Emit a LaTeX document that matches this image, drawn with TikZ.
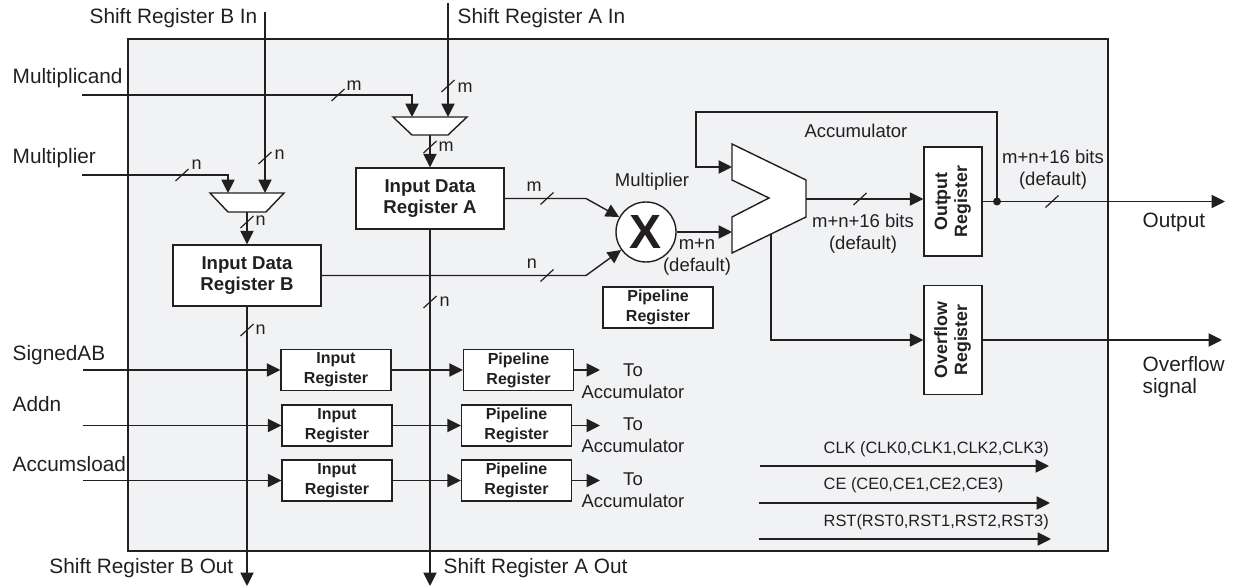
\documentclass[tikz,border=0pt]{standalone}
\usepackage{fontspec}
\setmainfont{Liberation Sans}
\usepackage{graphicx}
\usetikzlibrary{arrows.meta,positioning,calc}

\definecolor{panel}{RGB}{241,242,244}
\definecolor{ink}{RGB}{35,31,32}

% bus width mark
\newcommand{\busmark}[1]{\draw[line width=0.6pt] (#1) +(-6.5,6) -- +(6.5,-6);}

\begin{document}
\begin{tikzpicture}[x=0.5pt, y=-0.5pt, line width=0.7pt, color=ink,
  sig/.style={-{Triangle[length=6.7pt,width=6.6pt]}},
  reg/.style={draw, fill=white, align=center, inner sep=0pt},
  bigreg/.style={reg, minimum width=74pt, minimum height=30.5pt, font=\fontsize{9.3}{10.5}\selectfont\bfseries},
  smallreg/.style={reg, minimum width=55pt, minimum height=20.5pt, font=\fontsize{8}{10}\selectfont\bfseries},
  vreg/.style={reg, minimum width=29pt, minimum height=54.5pt, font=\fontsize{8.9}{10}\selectfont\bfseries},
  lbl/.style={font=\fontsize{10.4}{11}\selectfont, inner sep=0pt},
  note/.style={font=\fontsize{9.25}{11}\selectfont, align=center, inner sep=0pt},
  bus/.style={font=\fontsize{9}{10}\selectfont, inner sep=0pt, anchor=west},
  ctl/.style={font=\fontsize{8.2}{10}\selectfont, inner sep=0pt, anchor=west}]

\useasboundingbox (0,0) rectangle (1233,588);

% Block outline
\draw[fill=panel] (128,39) rectangle (1108,551);

% Input muxes
\coordinate (muxA-l) at (412,117); \coordinate (muxA-r) at (448,117); \coordinate (muxA-o) at (430,135);
\coordinate (muxB-l) at (228,193); \coordinate (muxB-r) at (265,193); \coordinate (muxB-o) at (247,212);
\draw[fill=white] (393,117) -- (467,117) -- (448,135) -- (412,135) -- cycle;
\draw[fill=white] (210,193) -- (284,193) -- (266,212) -- (228,212) -- cycle;

% Registers
\node[bigreg] (regA) at (430,198.5) {Input Data\\Register A};
\node[bigreg] (regB) at (247,275.5) {Input Data\\Register B};
\node[smallreg] (pipeM) at (658,307.5) {Pipeline\\Register};
\node[vreg] (outReg) at (953,201.5) {\rotatebox{90}{\begin{tabular}{@{}c@{}}Output\\Register\end{tabular}}};
\node[vreg] (ovfReg) at (953,340) {\rotatebox{90}{\begin{tabular}{@{}c@{}}Overflow\\Register\end{tabular}}};

% Multiplier
\node[draw, circle, fill=white, minimum size=30pt, inner sep=0pt, font=\fontsize{24}{24}\selectfont\bfseries] (mult) at (646,232) {X};
\node[note] (multLbl) at (652,182) {Multiplier};
\node[note] (multW) at (697,257) {m+n\\(default)};

% Accumulator
\coordinate (accIn1) at (732,167); \coordinate (accIn2) at (732,232);
\coordinate (accOut) at (806,199); \coordinate (accTap) at (771,234.5);
\draw[fill=white] (732,144) -- (806,180) -- (806,217) -- (732,253) -- (732,217) -- (769,198) -- (732,180) -- cycle;
\node[note] (accLbl) at (856,131) {Accumulator};
\node[note] (accW) at (863,234) {m+n+16 bits\\(default)};

% Shift register chain
\coordinate (srBtop) at (265,12);
\coordinate (srAtop) at (448,3);
\coordinate (srBout) at (247,586);
\coordinate (srAout) at (430,586);
\draw[sig] (srBtop) -- (muxB-r);
\draw[sig] (srAtop) -- (muxA-r);
\draw[sig] (regB.south) -- (srBout);
\draw[sig] (regA.south) -- (srAout);
\node[lbl, anchor=east] (srBinLbl) at (258,18) {Shift Register B In};
\node[lbl, anchor=west] (srAinLbl) at (457,18) {Shift Register A In};
\node[lbl, anchor=east] (srBoutLbl) at (234,568) {Shift Register B Out};
\node[lbl, anchor=west] (srAoutLbl) at (443,568) {Shift Register A Out};

% Data inputs
\coordinate (mcand) at (82,95);
\coordinate (mplier) at (82,175);
\node[lbl, anchor=west] (mcandLbl) at (12,78) {Multiplicand};
\node[lbl, anchor=west] (mplierLbl) at (12,158) {Multiplier};
\draw[sig] (mcand) -| (muxA-l);
\draw[sig] (mplier) -| (muxB-l);
\draw[sig] (muxA-o) -- (regA.north);
\draw[sig] (muxB-o) -- (regB.north);

% Into the multiplier
\coordinate (bendA) at (586,198.5);
\coordinate (bendB) at (586,275.5);
\draw[sig] (regA.east) -- (bendA) -- (mult);
\draw[sig] (regB.east) -- (bendB) -- (mult);
\draw[sig] (mult.east) -- (accIn2);

% Accumulator loop and outputs
\coordinate (tap) at (997,201.5);
\coordinate (fbCorner) at (696,112);
\coordinate (outEnd) at (1225,201.5);
\coordinate (ovfEnd) at (1222,340);
\draw[sig] (accOut) -- (accOut -| outReg.west);
\draw[sig] (outReg.east) -- (outEnd);
\draw[sig] (tap) |- (fbCorner) |- (accIn1);
\fill (tap) circle[radius=2pt];
\draw[sig] (accTap) |- (ovfReg.west);
\draw[sig] (ovfReg.east) -- (ovfEnd);
\node[note] (outW) at (1053,170) {m+n+16 bits\\(default)};
\node[lbl, anchor=west] (outLbl) at (1142,222) {Output};
\node[lbl, anchor=west, align=left] (ovfLbl) at (1142,377) {Overflow\\signal};

% Bus widths
\busmark{338,95} \node[bus] (wMcand) at (346,86) {m};
\busmark{448,86} \node[bus] (wSrA) at (457,88) {m};
\busmark{430,147} \node[bus] (wMuxA) at (438,147) {m};
\busmark{182,175} \node[bus] (wMplier) at (191,165) {n};
\busmark{265,158} \node[bus] (wSrB) at (274,155) {n};
\busmark{247,222} \node[bus] (wMuxB) at (255,221) {n};
\busmark{247,330} \node[bus] (wOutB) at (255,330) {n};
\busmark{430,302} \node[bus] (wOutA) at (439,302) {n};
\busmark{547,198.5} \node[bus, anchor=center] (wRegA) at (534,187) {m};
\busmark{547,275.5} \node[bus, anchor=center] (wRegB) at (532,264) {n};
\busmark{860,199}
\busmark{1052,201.5}

% Control inputs
\node[smallreg] (in1) at (336,370) {Input\\Register};
\node[smallreg] (in2) at (337,425.5) {Input\\Register};
\node[smallreg] (in3) at (337,480.5) {Input\\Register};
\node[smallreg] (pp1) at (518.5,370) {Pipeline\\Register};
\node[smallreg] (pp2) at (516.5,425.5) {Pipeline\\Register};
\node[smallreg] (pp3) at (516.5,480.5) {Pipeline\\Register};
\coordinate (c1) at (83,370); \coordinate (c2) at (83,425.5); \coordinate (c3) at (83,480.5);
\coordinate (to1) at (600,370); \coordinate (to2) at (600,425.5); \coordinate (to3) at (600,480.5);
\node[lbl, anchor=west] (c1Lbl) at (12,355) {SignedAB};
\node[lbl, anchor=west] (c2Lbl) at (12,404) {Addn};
\node[lbl, anchor=west] (c3Lbl) at (12,464) {Accumsload};
\draw[sig] (c1) -- (in1.west);
\draw[sig] (c2) -- (in2.west);
\draw[sig] (c3) -- (in3.west);
\draw[sig] (in1.east) -- (pp1.west);
\draw[sig] (in2.east) -- (pp2.west);
\draw[sig] (in3.east) -- (pp3.west);
\draw[sig] (pp1.east) -- (to1);
\draw[sig] (pp2.east) -- (to2);
\draw[sig] (pp3.east) -- (to3);
\node[note] (to1Lbl) at (633,381) {To\\Accumulator};
\node[note] (to2Lbl) at (633,435) {To\\Accumulator};
\node[note] (to3Lbl) at (633,490.5) {To\\Accumulator};

% Clock, enable, reset
\coordinate (clkA) at (760,466); \coordinate (clkB) at (1049,466);
\coordinate (ceA) at (759,503); \coordinate (ceB) at (1050,503);
\coordinate (rstA) at (759,539); \coordinate (rstB) at (1051,539);
\draw[sig] (clkA) -- (clkB);
\draw[sig] (ceA) -- (ceB);
\draw[sig] (rstA) -- (rstB);
\node[ctl] (clkLbl) at (823,449) {CLK (CLK0,CLK1,CLK2,CLK3)};
\node[ctl] (ceLbl) at (823,485) {CE (CE0,CE1,CE2,CE3)};
\node[ctl] (rstLbl) at (823,522) {RST(RST0,RST1,RST2,RST3)};

\end{tikzpicture}
\end{document}
